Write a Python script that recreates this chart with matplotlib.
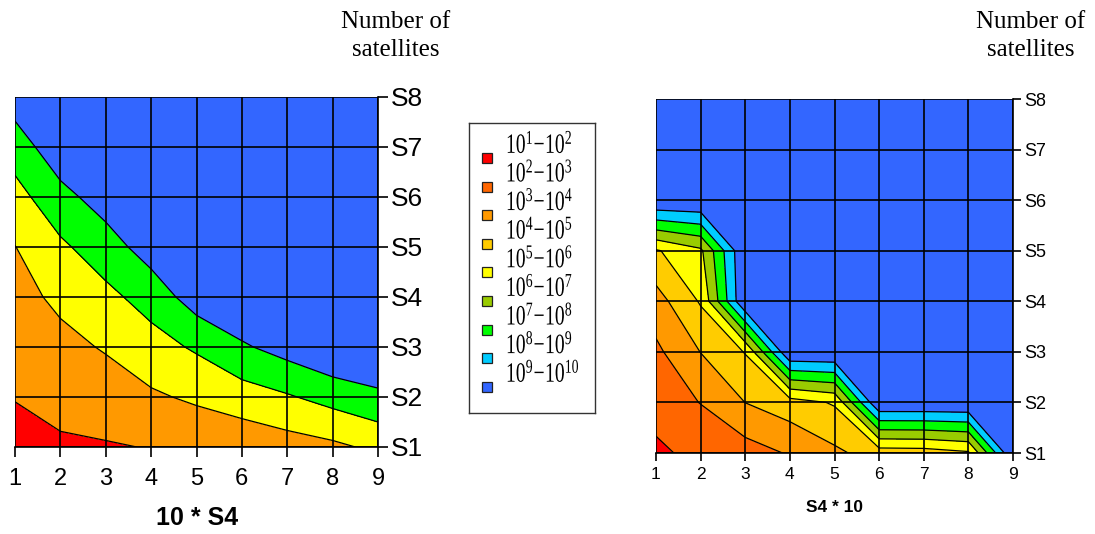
import numpy as np
import matplotlib
matplotlib.use("Agg")
import matplotlib.pyplot as plt
from matplotlib.textpath import TextPath
from matplotlib.patches import PathPatch
from matplotlib.font_manager import FontProperties
from matplotlib.transforms import Affine2D

# ---------------- data ----------------
x_vals = [1, 2, 3, 4, 5, 6, 7, 8, 9]
y_vals = [1, 2, 3, 4, 5, 6, 7, 8]
y_labels = ["S1", "S2", "S3", "S4", "S5", "S6", "S7", "S8"]

# left chart: values (log scale units) at grid nodes, rows = S1..S8, cols = x 1..9
left_row_s1 = [1.43, 1.73, 1.85, 2.07, 2.45, 2.58, 3.11, 3.59, 4.41]
left_row_s2 = [2.06, 2.59, 3.00, 3.72, 4.32, 5.08, 5.80, 6.72, 7.59]
left_row_s3 = [2.69, 3.44, 4.17, 5.22, 6.27, 7.73, 8.80, 9.90, 9.90]
left_row_s4 = [3.32, 4.42, 5.48, 6.80, 9.00, 9.90, 9.90, 9.90, 9.90]
left_row_s5 = [3.96, 5.64, 7.09, 8.94, 9.90, 9.90, 9.90, 9.90, 9.90]
left_row_s6 = [5.27, 7.36, 8.91, 9.90, 9.90, 9.90, 9.90, 9.90, 9.90]
left_row_s7 = [6.95, 9.30, 9.60, 9.90, 9.90, 9.90, 9.90, 9.90, 9.90]
left_row_s8 = [8.97, 9.80, 9.90, 9.90, 9.90, 9.90, 9.90, 9.90, 9.90]

# right chart
right_row_s1 = [1.70, 2.45, 2.55, 3.09, 3.80, 4.45, 4.50, 4.85, 10.0]
right_row_s2 = [2.60, 3.02, 4.01, 4.56, 5.10, 10.0, 10.0, 10.0, 10.0]
right_row_s3 = [2.79, 4.02, 5.05, 10.0, 10.0, 10.0, 10.0, 10.0, 10.0]
right_row_s4 = [3.58, 5.10, 10.0, 10.0, 10.0, 10.0, 10.0, 10.0, 10.0]
right_row_s5 = [4.90, 5.80, 10.0, 10.0, 10.0, 10.0, 10.0, 10.0, 10.0]
right_row_s6 = [10.0, 10.0, 10.0, 10.0, 10.0, 10.0, 10.0, 10.0, 10.0]
right_row_s7 = [10.0, 10.0, 10.0, 10.0, 10.0, 10.0, 10.0, 10.0, 10.0]
right_row_s8 = [10.0, 10.0, 10.0, 10.0, 10.0, 10.0, 10.0, 10.0, 10.0]

left_levels = [0, 2, 4, 6, 8, 10]
left_colors = ["#FF0000", "#FF9900", "#FFFF00", "#00FF00", "#3366FF"]

right_levels = [1, 2, 3, 4, 5, 6, 7, 8, 9, 10]
right_colors = ["#FF0000", "#FF6600", "#FF9900", "#FFCC00", "#FFFF00",
                "#99CC00", "#00FF00", "#00CCFF", "#3366FF"]

legend_labels = [r"$10^{%d}\!-\!10^{%d}$" % (k, k + 1) for k in range(1, 10)]

left_xlabel = "10 * S4"
right_xlabel = "S4 * 10"
title_text = "Number of\nsatellites"

# ---------------- style ----------------
plt.rcParams["mathtext.fontset"] = "custom"
plt.rcParams["mathtext.rm"] = "Liberation Serif"
plt.rcParams["mathtext.it"] = "Liberation Serif:italic"
plt.rcParams["mathtext.bf"] = "Liberation Serif:bold"
plt.rcParams["font.family"] = ["Liberation Sans", "DejaVu Sans"]

W, H = 1095, 534
fig = plt.figure(figsize=(W / 100, H / 100), dpi=100)


def fx(px):
    return px / W


def fy(py):
    return 1 - py / H


def draw_panel(rect, grid, levels, colors, ylab_size, xlab_size, tick_len, xpad):
    ax = fig.add_axes(rect)
    X, Y = np.meshgrid(x_vals, y_vals)
    Z = np.array(grid)
    ax.contourf(X, Y, Z, levels=levels, colors=colors)
    ax.contour(X, Y, Z, levels=levels[1:-1], colors="black", linewidths=0.9)
    for xv in x_vals:
        ax.axvline(xv, color="black", lw=1.2, zorder=5)
    for yv in y_vals:
        ax.axhline(yv, color="black", lw=1.2, zorder=5)
    ax.set_xlim(1, 9)
    ax.set_ylim(1, 8)
    ax.set_xticks(x_vals)
    ax.set_xticklabels([str(v) for v in x_vals], fontsize=xlab_size)
    ax.yaxis.tick_right()
    ax.set_yticks(y_vals)
    ax.set_yticklabels(y_labels, fontsize=ylab_size)
    ax.tick_params(axis="both", direction="out", length=tick_len, width=1.2,
                   color="black", pad=2)
    ax.tick_params(axis="x", pad=xpad)
    for s in ["top", "left"]:
        ax.spines[s].set_visible(False)
    for s in ["bottom", "right"]:
        ax.spines[s].set_linewidth(1.2)
    return ax


left_grid = [left_row_s1, left_row_s2, left_row_s3, left_row_s4,
             left_row_s5, left_row_s6, left_row_s7, left_row_s8]
right_grid = [right_row_s1, right_row_s2, right_row_s3, right_row_s4,
              right_row_s5, right_row_s6, right_row_s7, right_row_s8]

axL = draw_panel([fx(15), fy(447), fx(378) - fx(15), fy(97) - fy(447)],
                 left_grid, left_levels, left_colors, 19, 17, 7, 8)
axR = draw_panel([fx(656), fy(453), fx(1013) - fx(656), fy(99) - fy(453)],
                 right_grid, right_levels, right_colors, 13, 12.5, 6, 4)

# axis labels
fig.text(fx(197), fy(518), left_xlabel, ha="center", va="center",
         fontsize=18, fontweight="bold")
fig.text(fx(835), fy(507), right_xlabel, ha="center", va="center",
         fontsize=12.5, fontweight="bold")

# "Number of satellites"
for cx in (396, 1031):
    fig.text(fx(cx), fy(36), title_text, ha="center", va="center",
             fontsize=18, family="Liberation Serif", linespacing=1.4)

# legend box
axLg = fig.add_axes([fx(469), fy(413), fx(595) - fx(469), fy(123) - fy(413)])
axLg.set_xlim(469, 595)
axLg.set_ylim(413, 123)
axLg.set_xticks([])
axLg.set_yticks([])
for s in axLg.spines.values():
    s.set_linewidth(1.0)
    s.set_color("#333333")

fp = FontProperties(family="Liberation Serif")
for i, (lab, col) in enumerate(zip(legend_labels, right_colors)):
    ym = 158 + i * 28.6
    axLg.plot([487], [ym], marker="s", markersize=7, markerfacecolor=col,
              markeredgecolor="#222222", markeredgewidth=0.9, linestyle="none")
    tp = TextPath((0, 0), lab, size=28, prop=fp)
    tr = Affine2D().scale(0.7, 1.0).translate(506, H - (ym - 5))
    patch = PathPatch(tp, transform=tr, facecolor="black", edgecolor="none")
    fig.add_artist(patch)

fig.savefig("out.png", dpi=100)
